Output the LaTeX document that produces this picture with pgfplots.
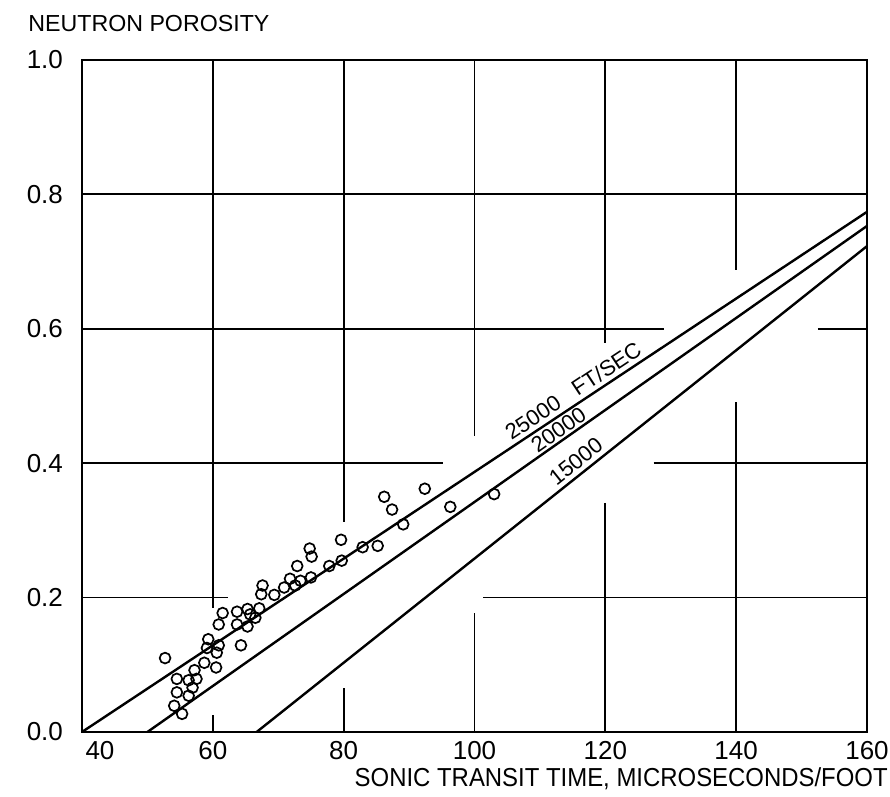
\documentclass[border=0pt]{standalone}
\usepackage{pgfplots}
\pgfplotsset{compat=1.18}
\usepackage{fontspec}
\setmainfont{Liberation Sans}

\pgfplotstableread{
x y
52.7 0.110
54.5 0.079
54.5 0.059
54.1 0.039
55.3 0.027
56.3 0.077
57.2 0.092
57.5 0.079
56.9 0.066
56.3 0.054
58.7 0.103
59.3 0.138
59.1 0.125
60.6 0.118
60.9 0.129
60.5 0.096
60.9 0.160
61.5 0.177
63.7 0.179
63.7 0.160
64.3 0.129
65.3 0.183
65.3 0.157
65.7 0.175
66.5 0.170
67.1 0.184
67.6 0.218
67.4 0.205
69.4 0.204
70.9 0.215
71.8 0.228
72.6 0.218
73.4 0.225
72.9 0.247
75.0 0.230
77.8 0.247
79.7 0.255
74.8 0.273
75.1 0.261
79.6 0.286
82.9 0.275
85.2 0.277
86.2 0.350
87.4 0.331
89.1 0.309
92.4 0.362
96.3 0.335
103.0 0.354
}\points

\begin{document}
\begin{tikzpicture}
\useasboundingbox (-41pt,-32.5pt) rectangle (404pt,366pt);
\begin{axis}[
  at={(0,0)}, anchor=south west,
  scale only axis, width=392.5pt, height=336pt,
  xmin=40, xmax=160, ymin=0, ymax=1,
  xtick={40,60,80,100,120,140,160},
  ytick={0,0.2,0.4,0.6,0.8,1.0},
  xticklabels={\hspace*{18pt}40,60,80,100,120,140,160},
  yticklabels={0.0,0.2,0.4,0.6,0.8,1.0},
  major tick length=0pt,
  axis line style={line width=1.3pt},
  tick label style={font=\fontsize{13}{15}\selectfont},
  yticklabel style={xshift=-6pt},
  xticklabel style={yshift=-1pt},
  /pgf/number format/assume math mode=true,
  clip=false,
]
% partial grid lines as in the original
\draw[line width=0.9pt] (axis cs:40,0.8) -- (axis cs:160,0.8);
\draw[line width=0.9pt] (axis cs:40,0.6) -- (axis cs:129,0.6);
\draw[line width=0.9pt] (axis cs:152.5,0.6) -- (axis cs:160,0.6);
\draw[line width=0.9pt] (axis cs:40,0.4) -- (axis cs:95.2,0.4);
\draw[line width=0.9pt] (axis cs:127.4,0.4) -- (axis cs:160,0.4);
\draw[line width=0.9pt] (axis cs:40,0.2) -- (axis cs:62.3,0.2);
\draw[line width=0.9pt] (axis cs:101.3,0.2) -- (axis cs:160,0.2);
\draw[line width=0.9pt] (axis cs:60,1) -- (axis cs:60,0.185);
\draw[line width=0.9pt] (axis cs:60,0.025) -- (axis cs:60,0);
\draw[line width=0.9pt] (axis cs:80,1) -- (axis cs:80,0.3125);
\draw[line width=0.9pt] (axis cs:80,0.065) -- (axis cs:80,0);
\draw[line width=0.9pt] (axis cs:100,1) -- (axis cs:100,0.44);
\draw[line width=0.9pt] (axis cs:100,0.177) -- (axis cs:100,0);
\draw[line width=0.9pt] (axis cs:120,1) -- (axis cs:120,0.579);
\draw[line width=0.9pt] (axis cs:120,0.341) -- (axis cs:120,0);
\draw[line width=0.9pt] (axis cs:140,1) -- (axis cs:140,0.6875);
\draw[line width=0.9pt] (axis cs:140,0.491) -- (axis cs:140,0);

\addplot[line width=1.2pt, black] coordinates {(40,0) (160,0.774)}
  node[pos=0.635, sloped, above, inner sep=2pt, font=\fontsize{11}{13}\selectfont] {25000\ \ \ FT/SEC};
\addplot[line width=1.2pt, black] coordinates {(50,0) (160,0.753)}
  node[pos=0.58, sloped, above, inner sep=1pt, font=\fontsize{11}{13}\selectfont] {20000};
\addplot[line width=1.2pt, black] coordinates {(66.7,0) (160,0.723)}
  node[pos=0.536, sloped, above, inner sep=2pt, font=\fontsize{11}{13}\selectfont] {15000};

\addplot[only marks, mark=o, mark size=2.7pt, mark options={line width=0.85pt, black}] table[x=x, y=y] {\points};

\node[anchor=base west, inner sep=0pt, font=\fontsize{11.6}{14}\selectfont] at (rel axis cs:-0.0688,1.0417) {NEUTRON POROSITY};
\node[anchor=base east, inner sep=0pt] at (rel axis cs:1.0268,-0.0818) {\scalebox{0.92}[1]{\fontsize{13}{15}\selectfont SONIC TRANSIT TIME, MICROSECONDS/FOOT}};
\end{axis}
\end{tikzpicture}
\end{document}
